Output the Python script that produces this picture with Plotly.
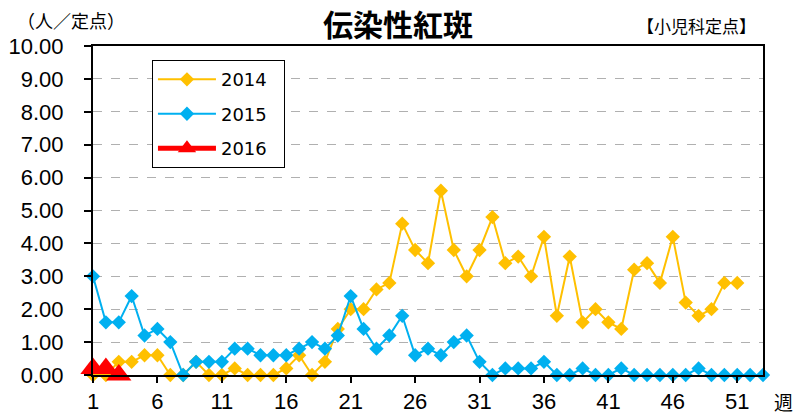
import plotly.graph_objects as go

weeks_2014 = list(range(1, 52))
vals_2014 = [0.0, 0.0, 0.4, 0.4, 0.6, 0.6, 0.0, 0.0, 0.4, 0.0,
             0.0, 0.2, 0.0, 0.0, 0.0, 0.2, 0.6, 0.0, 0.4, 1.4,
             2.0, 2.0, 2.6, 2.8, 4.6, 3.8, 3.4, 5.6, 3.8, 3.0,
             3.8, 4.8, 3.4, 3.6, 3.0, 4.2, 1.8, 3.6, 1.6, 2.0,
             1.6, 1.4, 3.2, 3.4, 2.8, 4.2, 2.2, 1.8, 2.0, 2.8,
             2.8]
weeks_2015 = list(range(1, 54))
vals_2015 = [3.0, 1.6, 1.6, 2.4, 1.2, 1.4, 1.0, 0.0, 0.4, 0.4,
             0.4, 0.8, 0.8, 0.6, 0.6, 0.6, 0.8, 1.0, 0.8, 1.2,
             2.4, 1.4, 0.8, 1.2, 1.8, 0.6, 0.8, 0.6, 1.0, 1.2,
             0.4, 0.0, 0.2, 0.2, 0.2, 0.4, 0.0, 0.0, 0.2, 0.0,
             0.0, 0.2, 0.0, 0.0, 0.0, 0.0, 0.0, 0.2, 0.0, 0.0,
             0.0, 0.0, 0.0]
weeks_2016 = [1, 2, 3]
vals_2016 = [0.2, 0.2, 0.0]

x_ticks = [1, 6, 11, 16, 21, 26, 31, 36, 41, 46, 51]
y_ticks = [0, 1, 2, 3, 4, 5, 6, 7, 8, 9, 10]
y_labels = [f"{v:.2f}" for v in y_ticks]

title_text = "伝染性紅斑"
unit_text = "（人／定点）"
source_text = "【小児科定点】"
week_text = "週"

num_font = "Liberation Sans, Arial, sans-serif"
cjk = "Noto Sans CJK JP, sans-serif"
pad = "\u00a0\u00a0"

fig = go.Figure()
fig.add_trace(go.Scatter(x=weeks_2014, y=vals_2014, name="2014" + pad, mode="lines+markers",
                         legendgroup="a",
                         line=dict(color="#FFC000", width=2),
                         marker=dict(symbol="diamond", size=11, color="#FFC000"),
                         cliponaxis=False))
fig.add_trace(go.Scatter(x=weeks_2015, y=vals_2015, name="2015" + pad, mode="lines+markers",
                         legendgroup="b",
                         line=dict(color="#00B0F0", width=2),
                         marker=dict(symbol="diamond", size=11, color="#00B0F0"),
                         cliponaxis=False))
fig.add_trace(go.Scatter(x=weeks_2016, y=vals_2016, name="2016" + pad, mode="lines+markers",
                         legendgroup="c",
                         line=dict(color="#FF0000", width=5),
                         marker=dict(symbol="triangle-up", size=22, color="#FF0000"),
                         cliponaxis=False))

# page is offset by the browser's 8px body margin, so the figure is 8px smaller
fig.update_layout(
    width=800, height=408,
    margin=dict(l=85, r=45, t=38, b=41, autoexpand=False),
    paper_bgcolor="white", plot_bgcolor="white",
    showlegend=True,
    legend=dict(x=0.088, y=0.957, xanchor="left", yanchor="top",
                bgcolor="white", bordercolor="black", borderwidth=1,
                font=dict(family="DejaVu Sans, sans-serif", size=18, color="black"),
                tracegroupgap=8, itemwidth=58, traceorder="grouped"),
    xaxis=dict(range=[1, 53], tickvals=x_ticks, ticktext=[str(v) for v in x_ticks],
               showgrid=False, zeroline=False, automargin=False,
               showline=True, linecolor="black", linewidth=2, mirror=True,
               ticks="outside", ticklen=6, tickwidth=2, tickcolor="black",
               ticklabelstandoff=0,
               tickfont=dict(family=num_font, size=22, color="black")),
    yaxis=dict(range=[0, 10], tickvals=y_ticks, ticktext=y_labels,
               showgrid=True, gridcolor="#B0B0B0", griddash="dash", gridwidth=1,
               zeroline=False, automargin=False,
               showline=True, linecolor="black", linewidth=2, mirror=True,
               ticks="outside", ticklen=7, tickwidth=2, tickcolor="black",
               ticklabelstandoff=16,
               tickfont=dict(family=num_font, size=22, color="black")),
    yaxis2=dict(range=[0, 10], overlaying="y", side="left", tickvals=y_ticks,
                showticklabels=False, showgrid=False, zeroline=False, showline=False,
                ticks="inside", ticklen=7, tickwidth=2, tickcolor="black"),
)

fig.add_annotation(text=title_text, xref="paper", yref="paper", x=(389.5 - 85) / 670, y=1.0,
                   yshift=23.5, xanchor="center", yanchor="middle", showarrow=False,
                   font=dict(family=cjk, size=30, color="black", weight="bold"))
fig.add_annotation(text=unit_text, xref="paper", yref="paper", x=(63 - 85) / 670, y=1.0,
                   yshift=26.5, xanchor="center", yanchor="middle", showarrow=False,
                   font=dict(family=cjk, size=18, color="black"))
fig.add_annotation(text=source_text, xref="paper", yref="paper", x=(688.5 - 85) / 670, y=1.0,
                   yshift=21, xanchor="center", yanchor="middle", showarrow=False,
                   font=dict(family=cjk, size=17, color="black"))
fig.add_annotation(text=week_text, xref="paper", yref="paper", x=(775 - 85) / 670, y=0,
                   yshift=-26, xanchor="center", yanchor="middle", showarrow=False,
                   font=dict(family=cjk, size=19, color="black"))

fig.write_html("out.html")
